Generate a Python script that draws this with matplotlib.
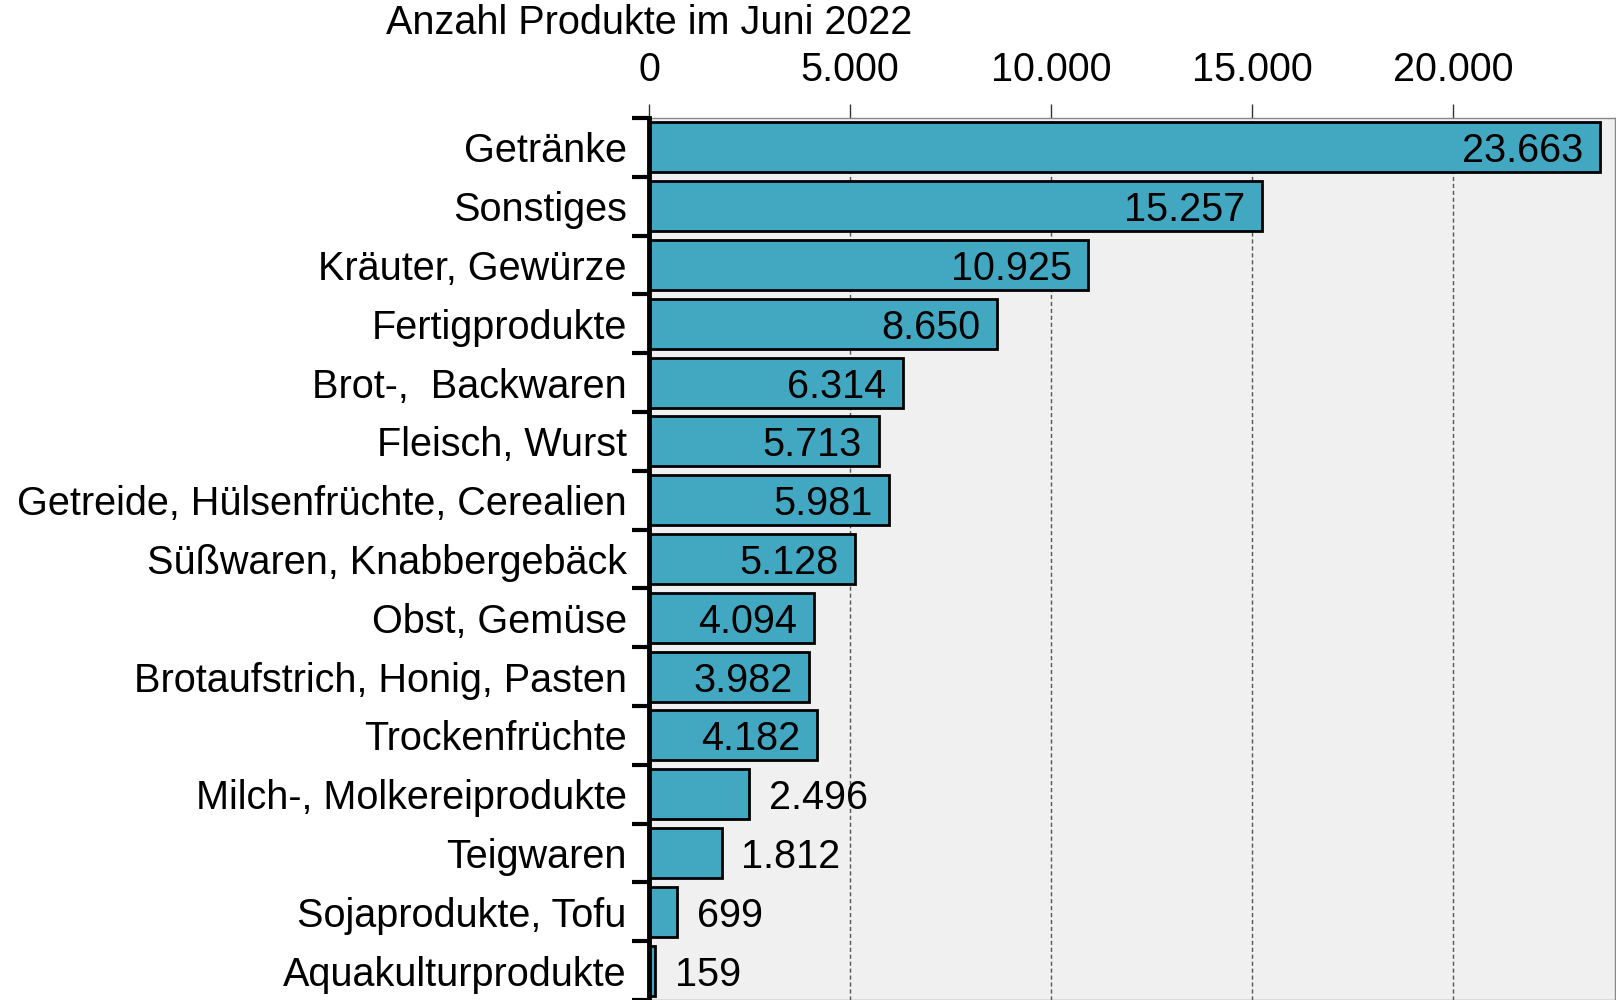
import matplotlib.pyplot as plt
import matplotlib.transforms as mtransforms
import numpy as np

plt.rcParams['font.family'] = ['Liberation Sans', 'DejaVu Sans']

# === DATA ===
categories = [
    "Getränke", "Sonstiges", "Kräuter, Gewürze", "Fertigprodukte",
    "Brot-,  Backwaren", "Fleisch, Wurst", "Getreide, Hülsenfrüchte, Cerealien",
    "Süßwaren, Knabbergebäck", "Obst, Gemüse", "Brotaufstrich, Honig, Pasten",
    "Trockenfrüchte", "Milch-, Molkereiprodukte", "Teigwaren",
    "Sojaprodukte, Tofu", "Aquakulturprodukte",
]
values = [23663, 15257, 10925, 8650, 6314, 5713, 5981, 5128, 4094, 3982,
          4182, 2496, 1812, 699, 159]
value_labels = ["23.663", "15.257", "10.925", "8.650", "6.314", "5.713", "5.981",
                "5.128", "4.094", "3.982", "4.182", "2.496", "1.812", "699", "159"]
x_ticks = [0, 5000, 10000, 15000, 20000]
x_tick_labels = ["0", "5.000", "10.000", "15.000", "20.000"]
title = "Anzahl Produkte im Juni 2022"

FS = 28.5

# === PLOT ===
fig = plt.figure(figsize=(16.16, 10), dpi=100)
ax = fig.add_axes([0.4016, 0.0, 0.5978, 0.882])
ax.set_facecolor("#F0F0F0")

y = np.arange(len(categories))
ax.barh(y, values, height=0.85, color="#42A8C1", edgecolor="black", linewidth=2, zorder=3)

for yi, v, lab in zip(y, values, value_labels):
    if v >= 3000:
        ax.annotate(lab, (v, yi), xytext=(-12, 0), textcoords="offset points",
                    ha="right", va="center_baseline", fontsize=FS, zorder=4)
    else:
        ax.annotate(lab, (v, yi), xytext=(14, 0), textcoords="offset points",
                    ha="left", va="center_baseline", fontsize=FS, zorder=4)

ax.set_xlim(0, 24030)
ax.set_ylim(len(categories) - 0.5, -0.5)

# x axis on top
ax.xaxis.tick_top()
ax.set_xticks(x_ticks)
ax.set_xticklabels(x_tick_labels, fontsize=FS)
ax.tick_params(axis="x", length=10, width=1, color="#333333", pad=11)
ax.grid(axis="x", linestyle=(0, (3, 2)), color="#555555", linewidth=1, zorder=1)

# y axis: labels centred, ticks at the boundaries
ax.set_yticks(y)
ax.set_yticklabels(categories, fontsize=FS, va="center_baseline")
ax.set_yticks(np.arange(-0.5, len(categories), 1), minor=True)
ax.tick_params(axis="y", which="major", length=0, pad=16)
ax.tick_params(axis="y", which="minor", length=12, width=3, color="black")

for s in ["top", "right", "bottom"]:
    ax.spines[s].set_color("#888888")
    ax.spines[s].set_linewidth(1)
ax.spines["left"].set_linewidth(3.5)
ax.spines["left"].set_zorder(5)

trans = mtransforms.blended_transform_factory(ax.transData, fig.transFigure)
ax.text(0, 1 - 23 / 1000, title, transform=trans, ha="center", va="center", fontsize=FS)

fig.savefig("out.png", dpi=100)
